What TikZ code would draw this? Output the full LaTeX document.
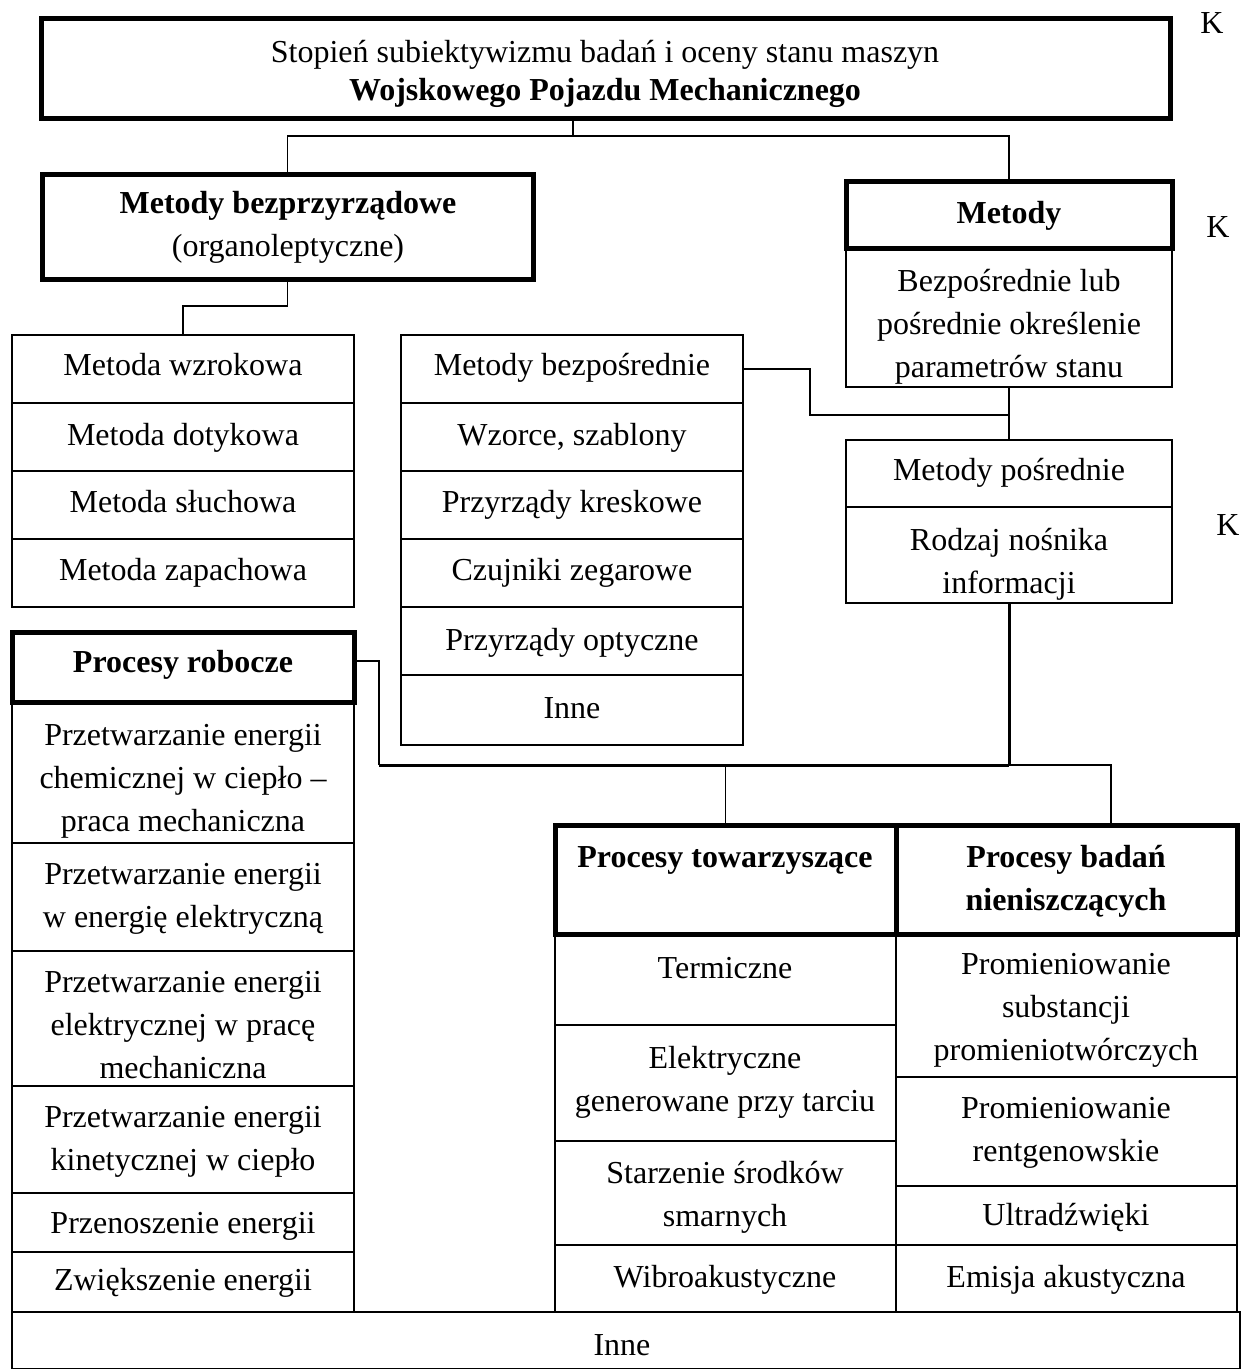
\documentclass[tikz,border=0pt]{standalone}
\usepackage{fontspec}
\setmainfont{Liberation Serif}
% cell: style, name, x1, y1, x2, y2 (top-left and bottom-right corners)
\newcommand{\cell}[6]{%
  \pgfmathsetmacro{\cellw}{#5-#3}\pgfmathsetmacro{\cellh}{#6-#4}%
  \node[#1, minimum width=\cellw pt, minimum height=\cellh pt] (#2) at (#3,#4) {};}
\begin{document}
\begin{tikzpicture}[x=1pt,y=-1pt,
  every node/.style={font=\fontsize{32}{43}\selectfont},
  box/.style={draw, line width=1.8pt, inner sep=0pt, outer sep=0pt, anchor=north west},
  hbox/.style={box, line width=5pt},
  txt/.style={inner sep=0pt, align=center},
  conn/.style={line width=1.5pt},
  heavy/.style={line width=3pt}]
\useasboundingbox (0,0) rectangle (1242,1369);

% --- boxes ---
\cell{hbox}{top}{41}{18}{1170}{118}
\cell{hbox}{mbp}{42}{174}{533}{279}
\cell{hbox}{met}{846}{181}{1172}{248}
\cell{box}{bpl}{846}{248}{1172}{387}

\cell{box}{lw1}{12}{335}{354}{403}
\cell{box}{lw2}{12}{403}{354}{471}
\cell{box}{lw3}{12}{471}{354}{539}
\cell{box}{lw4}{12}{539}{354}{607}

\cell{box}{mw1}{401}{335}{743}{403}
\cell{box}{mw2}{401}{403}{743}{471}
\cell{box}{mw3}{401}{471}{743}{539}
\cell{box}{mw4}{401}{539}{743}{607}
\cell{box}{mw5}{401}{607}{743}{675}
\cell{box}{mw6}{401}{675}{743}{745}

\cell{box}{mp}{846}{440}{1172}{507}
\cell{box}{rn}{846}{507}{1172}{603}

\cell{hbox}{pr}{12}{632}{354}{702}
\cell{box}{p1}{12}{702}{354}{843}
\cell{box}{p2}{12}{843}{354}{951}
\cell{box}{p3}{12}{951}{354}{1086}
\cell{box}{p4}{12}{1086}{354}{1193}
\cell{box}{p5}{12}{1193}{354}{1252}
\cell{box}{p6}{12}{1252}{354}{1312}

\cell{box}{t1}{555}{934}{896}{1025}
\cell{box}{t2}{555}{1025}{896}{1141}
\cell{box}{t3}{555}{1141}{896}{1245}
\cell{box}{t4}{555}{1245}{896}{1312}

\cell{box}{b1}{896}{934}{1237}{1077}
\cell{box}{b2}{896}{1077}{1237}{1186}
\cell{box}{b3}{896}{1186}{1237}{1245}
\cell{box}{b4}{896}{1245}{1237}{1312}

\cell{hbox}{pt}{555}{825}{896}{934}
\cell{hbox}{pb}{896}{825}{1237}{934}

\cell{box}{inne}{12}{1312}{1240}{1369}

% --- texts ---
\node[txt] (top-t) at (605,73) {\strut Stopień subiektywizmu badań i oceny stanu maszyn\\[-5pt]\strut\textbf{Wojskowego Pojazdu Mechanicznego}};
\node[txt] (mbp-t) at (288,226) {\strut\textbf{Metody bezprzyrządowe}\\\strut(organoleptyczne)};
\node[txt] (met-t) at (1009,215) {\strut\textbf{Metody}};
\node[txt] (bpl-t) at (1009,326) {\strut Bezpośrednie lub\\\strut pośrednie określenie\\\strut parametrów stanu};

\node[txt] (lw1-t) at (183,367) {\strut Metoda wzrokowa};
\node[txt] (lw2-t) at (183,437) {\strut Metoda dotykowa};
\node[txt] (lw3-t) at (183,504) {\strut Metoda słuchowa};
\node[txt] (lw4-t) at (183,572) {\strut Metoda zapachowa};

\node[txt] (mw1-t) at (572,367) {\strut Metody bezpośrednie};
\node[txt] (mw2-t) at (572,437) {\strut Wzorce, szablony};
\node[txt] (mw3-t) at (572,504) {\strut Przyrządy kreskowe};
\node[txt] (mw4-t) at (572,572) {\strut Czujniki zegarowe};
\node[txt] (mw5-t) at (572,642) {\strut Przyrządy optyczne};
\node[txt] (mw6-t) at (572,710) {\strut Inne};

\node[txt] (mp-t) at (1009,472) {\strut Metody pośrednie};
\node[txt] (rn-t) at (1009,563) {\strut Rodzaj nośnika\\\strut informacji};

\node[txt] (pr-t) at (183,664) {\strut\textbf{Procesy robocze}};
\node[txt] (p1-t) at (183,780) {\strut Przetwarzanie energii\\\strut chemicznej w ciepło --\\\strut praca mechaniczna};
\node[txt] (p2-t) at (183,897) {\strut Przetwarzanie energii\\\strut w energię elektryczną};
\node[txt] (p3-t) at (183,1027) {\strut Przetwarzanie energii\\\strut elektrycznej w pracę\\\strut mechaniczna};
\node[txt] (p4-t) at (183,1140) {\strut Przetwarzanie energii\\\strut kinetycznej w ciepło};
\node[txt] (p5-t) at (183,1225) {\strut Przenoszenie energii};
\node[txt] (p6-t) at (183,1282) {\strut Zwiększenie energii};

\node[txt] (pt-t) at (725,859) {\strut\textbf{Procesy towarzyszące}};
\node[txt] (pb-t) at (1066,880) {\strut\textbf{Procesy badań}\\\strut\textbf{nieniszczących}};

\node[txt] (t1-t) at (725,970) {\strut Termiczne};
\node[txt] (t2-t) at (725,1081) {\strut Elektryczne\\\strut generowane przy tarciu};
\node[txt] (t3-t) at (725,1196) {\strut Starzenie środków\\\strut smarnych};
\node[txt] (t4-t) at (725,1279) {\strut Wibroakustyczne};

\node[txt] (b1-t) at (1066,1009) {\strut Promieniowanie\\\strut substancji\\\strut promieniotwórczych};
\node[txt] (b2-t) at (1066,1131) {\strut Promieniowanie\\\strut rentgenowskie};
\node[txt] (b3-t) at (1066,1217) {\strut Ultradźwięki};
\node[txt] (b4-t) at (1066,1279) {\strut Emisja akustyczna};

\node[txt] (inne-t) at (622,1347) {\strut Inne};

\node[txt] (k1) at (1212,25) {\strut K};
\node[txt] (k2) at (1218,229) {\strut K};
\node[txt] (k3) at (1228,527) {\strut K};

% --- connectors ---
\coordinate (j1) at (573,136);
\draw[conn] (top.south -| j1) -- (j1);
\draw[conn] (mbp.north) |- (met.north |- j1) -- (met.north);

\coordinate (j2) at (183,306);
\draw[conn] (mbp.south) |- (j2) -- (lw1.north);

\coordinate (j3) at (810,415);
\draw[conn] (mw1.east) -| (j3) -- (bpl.south |- j3);
\draw[conn] (bpl.south) -- (mp.north);

\coordinate (j4) at (379,765);
\coordinate (j5) at (1111,765);
\coordinate (j6) at (379,661);
\draw[heavy] (rn.south) -- (rn.south |- j4);
\draw[conn] (pr.east |- j6) -- (j6) -- (j4);
\draw[heavy] (j4) -- (rn.south |- j4);
\draw[conn] (rn.south |- j4) -- (j5) -- (j5 |- pb.north);
\draw[conn] (pt.north |- j4) -- (pt.north);
\end{tikzpicture}
\end{document}
